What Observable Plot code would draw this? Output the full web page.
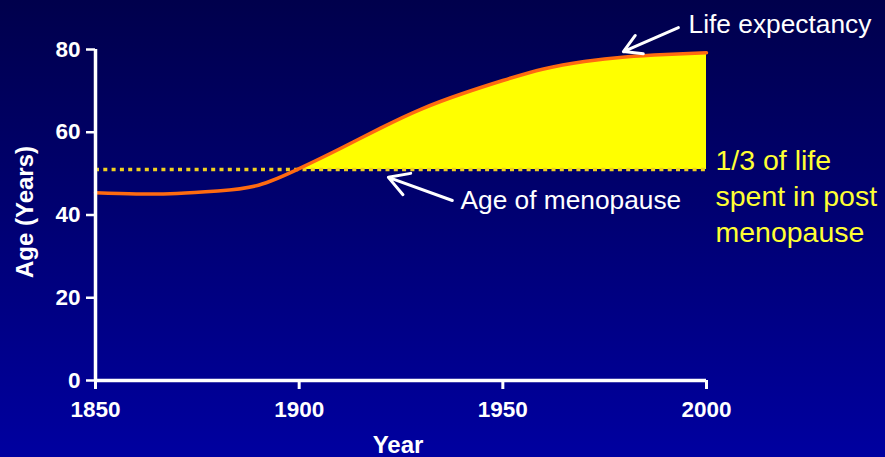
<!DOCTYPE html>
<html>
<head>
<meta charset="utf-8">
<script src="https://cdn.jsdelivr.net/npm/d3@7"></script>
<script src="https://cdn.jsdelivr.net/npm/@observablehq/plot@0.6"></script>
<style>
  html, body { margin: 0; padding: 0; width: 885px; height: 457px; overflow: hidden; }
  body { background: linear-gradient(to bottom, #00004c 0%, #000070 45%, #0000a0 100%); }
  #chart svg { display: block; }
</style>
</head>
<body>
<div id="chart"></div>
<script>
// ---- data ----
const years = [1850, 1860, 1870, 1880, 1890, 1900, 1910, 1920, 1930, 1940, 1950, 1960, 1970, 1980, 1990, 2000];
const lifeExpectancy = [45.4, 45.1, 45.2, 45.8, 47.2, 51.2, 56.0, 61.0, 65.6, 69.3, 72.5, 75.3, 77.1, 78.2, 78.8, 79.2];
const menopauseAge = 51;
const yTicks = [0, 20, 40, 60, 80];
const xTicks = [1850, 1900, 1950, 2000];

const labelLife = "Life expectancy";
const labelMenopause = "Age of menopause";
const labelThird = "1/3 of life\nspent in post\nmenopause";

// annotation anchors (in data units)
const textNotes = [
  {x: 1995.6, y: 86.0, text: labelLife},
  {x: 1939.6, y: 43.5, text: labelMenopause}
];
const thirdNote = [{x: 2002.2, y: 44.9, text: labelThird}];
const arrows = [
  {x1: 1993.1, y1: 85.3, x2: 1979.6, y2: 79.5},
  {x1: 1937.6, y1: 43.5, x2: 1921.9, y2: 49.1}
];

const rows = years.map((year, i) => ({year, life: lifeExpectancy[i]}));
const fillRows = rows.filter(d => d.year >= 1900);

const font = "Liberation Sans, Arial, Helvetica, sans-serif";

const chart = Plot.plot({
  width: 885,
  height: 457,
  marginLeft: 95,
  marginRight: 179,
  marginTop: 49,
  marginBottom: 77,
  x: {domain: [1850, 2000]},
  y: {domain: [0, 80]},
  style: {background: "transparent", color: "white", fontFamily: font, overflow: "visible"},
  marks: [
    Plot.areaY(fillRows, {x: "year", y1: d => menopauseAge, y2: "life", fill: "#ffff00", curve: "natural"}),
    Plot.ruleY([menopauseAge], {x1: 1850, x2: 2000, stroke: "#f0d020", strokeWidth: 3.5, strokeDasharray: "4,4.3"}),
    Plot.line(rows, {x: "year", y: "life", stroke: "#ff6a10", strokeWidth: 3.5, curve: "natural"}),
    Plot.ruleX([1850], {y1: 0, y2: 80, stroke: "white", strokeWidth: 3.5}),
    Plot.ruleY([0], {x1: 1850, x2: 2000, stroke: "white", strokeWidth: 3.5}),
    Plot.axisY({ticks: yTicks, tickSize: 9, tickPadding: 6, fontSize: 22.5, fontWeight: "bold", label: null, strokeWidth: 2.5, fill: "white", stroke: "white"}),
    Plot.axisX({ticks: xTicks, tickSize: 9, tickPadding: 12, fontSize: 22.5, fontWeight: "bold", label: null, strokeWidth: 3, fill: "white", stroke: "white", tickFormat: d => String(d)}),
    Plot.text(["Year"], {frameAnchor: "bottom", dx: -3, dy: 65, lineAnchor: "middle", fontSize: 24, fontWeight: "bold", fill: "white"}),
    Plot.text(["Age (Years)"], {frameAnchor: "left", dx: -70, dy: -3, rotate: -90, textAnchor: "middle", lineAnchor: "middle", fontSize: 24, fontWeight: "bold", fill: "white"}),
    Plot.arrow(arrows, {x1: "x1", y1: "y1", x2: "x2", y2: "y2", stroke: "white", strokeWidth: 3, headLength: 12}),
    Plot.text(textNotes, {x: "x", y: "y", text: "text", textAnchor: "start", lineAnchor: "middle", fontSize: 26.3, fill: "white"}),
    Plot.text(thirdNote, {x: "x", y: "y", text: "text", textAnchor: "start", lineAnchor: "middle", fontSize: 28.5, lineHeight: 1.27, fill: "#ffff33"})
  ]
});
document.getElementById("chart").appendChild(chart);
</script>
</body>
</html>
